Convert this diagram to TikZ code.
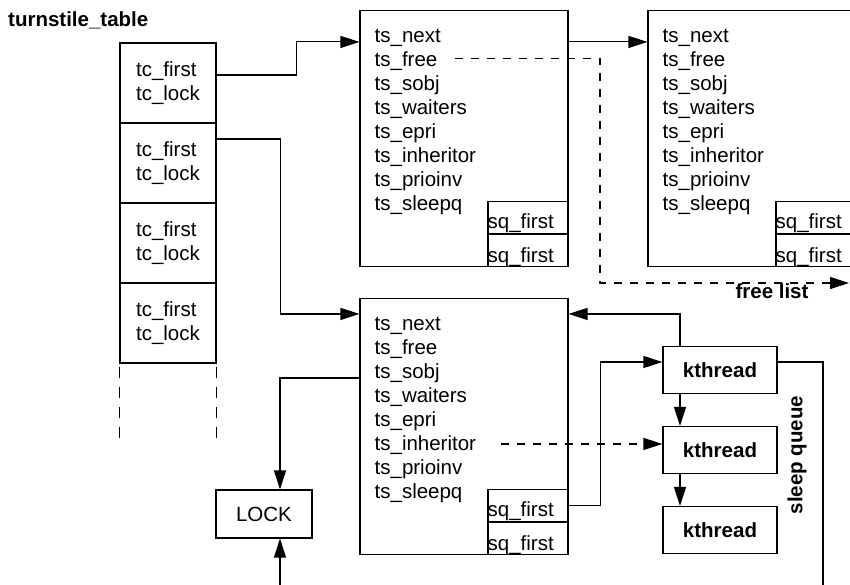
\documentclass[tikz,border=0pt]{standalone}
\usepackage{fontspec}
\setmainfont{Liberation Sans}
\usetikzlibrary{arrows.meta,calc}
\begin{document}
\begin{tikzpicture}[x=1pt,y=-1pt,
  every node/.style={font=\fontsize{20.5}{24}\selectfont},
  line/.style={line width=1.1pt},
  arr/.style={line, -{Triangle[length=19pt,width=12pt]}},
  dsh/.style={line, dash pattern=on 8pt off 8pt},
  cell/.style={draw, line width=1.1pt, minimum width=96pt, minimum height=80pt, inner sep=0pt, align=left},
  tsbox/.style={draw, line width=1.1pt, minimum width=208pt, minimum height=256pt, inner sep=0pt},
  sqbox/.style={draw, line width=1.1pt, minimum width=80pt, minimum height=32pt, inner sep=0pt},
  txt/.style={inner sep=0pt, anchor=base west},
  bold/.style={font=\fontsize{20.5}{24}\selectfont\bfseries},
  kbox/.style={draw, line width=1.1pt, minimum width=114pt, minimum height=47pt, inner sep=0pt, bold},
  lockbox/.style={draw, line width=1.1pt, minimum width=96pt, minimum height=48pt, inner sep=0pt},
]
\clip (0,0) rectangle (850,585);

% title
\node[txt, bold] (title) at (8,27) {turnstile\_table};

% turnstile table
\node[cell] (r1) at (168,83) {tc\_first\\tc\_lock};
\node[cell] (r2) at (168,163) {tc\_first\\tc\_lock};
\node[cell] (r3) at (168,243) {tc\_first\\tc\_lock};
\node[cell] (r4) at (168,323) {tc\_first\\tc\_lock};
\draw[line, dash pattern=on 11pt off 9pt, dash phase=-3pt] (r4.south west) -- ++(0,80);
\draw[line, dash pattern=on 11pt off 9pt, dash phase=-3pt] (r4.south east) -- ++(0,80);

% turnstiles
\node[tsbox] (b1) at (464,138.5) {};
\node[tsbox] (b2) at (752,138.5) {};
\node[tsbox] (b3) at (464,426.5) {};
\foreach \b in {b1,b2,b3} {
  \node[sqbox, anchor=south east] (\b-sqB) at (\b.south east) {};
  \node[sqbox, anchor=south] (\b-sqA) at (\b-sqB.north) {};
  \node[txt] (\b-sqAt) at ([yshift=5pt]\b-sqA.south west) {sq\_first};
  \node[txt] (\b-sqBt) at ([yshift=5pt]\b-sqB.south west) {sq\_first};
  \foreach [count=\i] \t in {ts\_next,ts\_free,ts\_sobj,ts\_waiters,ts\_epri,ts\_inheritor,ts\_prioinv,ts\_sleepq}
    \node[txt] (\b-\i) at ([xshift=15pt, yshift={-33pt-24pt*(\i-1)}]\b.north west) {\t};
}

% LOCK and kthreads
\node[lockbox] (lock) at (264,514) {LOCK};
\node[kbox] (k1) at (720,370) {kthread};
\node[kbox] (k2) at (720,450) {kthread};
\node[kbox] (k3) at (720,530) {kthread};
\node[bold, rotate=90] (sleepq) at (797,455) {sleep queue};
\node[bold, anchor=base] (freel) at (772,298) {free list};

% connectors
\draw[arr] ([yshift=8pt]r1.east) -- ++(80,0) |- ([yshift=-32pt]b1.north west);
\draw[arr] ([yshift=24pt]r2.east) -- ++(64,0) |- ([yshift=-16pt]b3.north west);
\draw[arr] ([yshift=-32pt]b1.north east) -- ([yshift=-32pt]b2.north west);

\coordinate (flturn) at (600,283);
\coordinate (flend) at (849,283);
\draw[dsh, -{Triangle[length=19pt,width=12pt]}] ([xshift=17pt,yshift=8pt]b1-2.base east) -| (flturn) -- (flend);

\draw[arr] ([yshift=-80pt]b3.north west) -| ([xshift=16pt]lock.north);
\coordinate (lockin) at (280,586);
\draw[arr] (lockin) -- ([xshift=16pt]lock.south);

\draw[arr] ([xshift=-40pt]k1.south) -- ([xshift=-40pt]k2.north);
\draw[arr] ([xshift=-40pt]k2.south) -- ([xshift=-40pt]k3.north);
\draw[arr] ([xshift=-40pt]k1.north) |- ([yshift=-16pt]b3.north east);
\draw[arr] (b3-sqA.east) -- ++(32,0) |- ([yshift=8pt]k1.west);

\coordinate (inhs) at ([xshift=25pt,yshift=7pt]b3-6.base east);
\draw[dsh, -{Triangle[length=19pt,width=12pt]}] (inhs) -- (inhs -| k2.west);

\coordinate (sqend) at (823,586);
\draw[line] ([yshift=8pt]k1.east) -| (sqend);
\end{tikzpicture}
\end{document}
